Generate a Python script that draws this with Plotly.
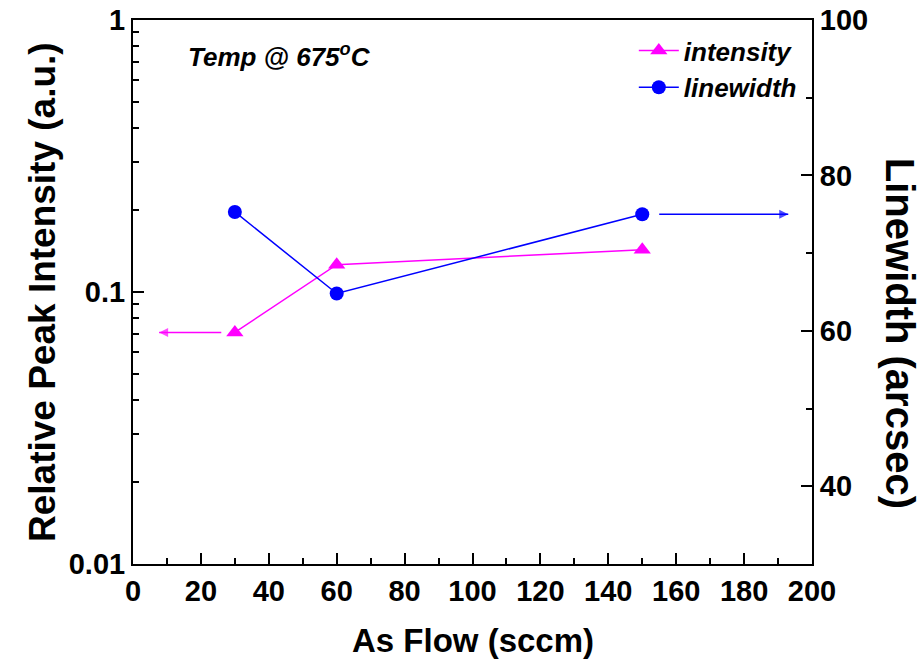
import plotly.graph_objects as go

# As flow rate (sccm) and the measured values at 675 °C
flow = [30, 60, 150]
intensity = [0.071, 0.126, 0.143]      # relative peak intensity (a.u.)
linewidth = [75.3, 64.8, 75.0]         # linewidth (arcsec)

# arrows pointing each series to its own axis
intensity_arrow_x = [26, 7.7]
linewidth_arrow_x = [155, 193]

x_ticks = [0, 20, 40, 60, 80, 100, 120, 140, 160, 180, 200]
y_ticks = [0.01, 0.1, 1]
y_ticklabels = ["0.01", "0.1", "1"]
y2_ticks = [40, 60, 80, 100]

MAGENTA = "#FF00FF"
BLUE = "#0000FF"
FONT = "Liberation Sans, Arial, sans-serif"

# log minor ticks at 2..9 within each decade
log_minor = [m * 10 ** d for d in (-2, -1) for m in range(2, 10)]

fig = go.Figure()

fig.add_trace(go.Scatter(
    x=flow, y=intensity, name="<b><i>intensity</i></b>",
    mode="lines+markers",
    line=dict(color=MAGENTA, width=1.5),
    marker=dict(symbol="triangle-up", size=15, color=MAGENTA),
    yaxis="y",
))
fig.add_trace(go.Scatter(
    x=flow, y=linewidth, name="<b><i>linewidth</i></b>",
    mode="lines+markers",
    line=dict(color=BLUE, width=1.5),
    marker=dict(symbol="circle", size=14, color=BLUE),
    yaxis="y2",
))

fig.add_trace(go.Scatter(
    x=intensity_arrow_x, y=[intensity[0]] * 2, mode="lines+markers",
    line=dict(color=MAGENTA, width=1.5),
    marker=dict(symbol="arrow-left", size=[0, 9], color=MAGENTA, line=dict(width=0)),
    showlegend=False, hoverinfo="skip", yaxis="y",
))
fig.add_trace(go.Scatter(
    x=linewidth_arrow_x, y=[linewidth[2]] * 2, mode="lines+markers",
    line=dict(color=BLUE, width=1.5),
    marker=dict(symbol="arrow-right", size=[0, 9], color=BLUE, line=dict(width=0)),
    showlegend=False, hoverinfo="skip", yaxis="y2",
))

fig.add_annotation(
    x=0.078, y=0.935, xref="paper", yref="paper", xanchor="left", yanchor="middle",
    text="<b><i>Temp @ 675<sup>o</sup>C</i></b>", showarrow=False,
    font=dict(family=FONT, size=26, color="black"),
)

# axis titles
fig.add_annotation(
    x=0.5, y=0, xref="paper", yref="paper", yshift=-76,
    xanchor="center", yanchor="middle",
    text="<b>As Flow (sccm)</b>", showarrow=False,
    font=dict(family=FONT, size=33, color="black"),
)
fig.add_annotation(
    x=0, y=0.5, xref="paper", yref="paper", xshift=-91,
    xanchor="center", yanchor="middle",
    text="<b>Relative Peak Intensity (a.u.)</b>", textangle=-90, showarrow=False,
    font=dict(family=FONT, size=37, color="black"),
)
fig.add_annotation(
    x=1, y=0.425, xref="paper", yref="paper", xshift=88,
    xanchor="center", yanchor="middle",
    text="<b>Linewidth (arcsec)</b>", textangle=90, showarrow=False,
    font=dict(family=FONT, size=40, color="black"),
)

axis_common = dict(
    showline=True, linecolor="black", linewidth=2,
    ticks="inside", tickcolor="black", tickwidth=2, ticklen=11,
    showgrid=False, zeroline=False, automargin=False,
    tickfont=dict(family=FONT, size=29, color="black", weight="bold"),
)

fig.update_layout(
    width=922, height=662,
    margin=dict(l=133, r=110, t=20, b=98, autoexpand=False),
    paper_bgcolor="white", plot_bgcolor="white",
    font=dict(family=FONT, color="black"),
    showlegend=True,
    legend=dict(
        x=0.985, y=0.987, xanchor="right", yanchor="top",
        bgcolor="rgba(0,0,0,0)", borderwidth=0,
        font=dict(family=FONT, size=26, color="black"),
        itemwidth=40, tracegroupgap=0,
    ),
    xaxis=dict(
        **axis_common, range=[0, 200], tickvals=x_ticks, mirror=True,
        minor=dict(dtick=10, ticks="inside", ticklen=6, tickwidth=2, tickcolor="black"),
    ),
    yaxis=dict(
        **axis_common, type="log", range=[-2, 0],
        tickvals=y_ticks, ticktext=y_ticklabels,
        minor=dict(tickvals=log_minor, ticks="inside", ticklen=6, tickwidth=2, tickcolor="black"),
    ),
    yaxis2=dict(
        **axis_common, overlaying="y", side="right", range=[30, 100],
        tickvals=y2_ticks,
        minor=dict(dtick=10, ticks="inside", ticklen=6, tickwidth=2, tickcolor="black"),
    ),
)

fig.write_html("out.html")
